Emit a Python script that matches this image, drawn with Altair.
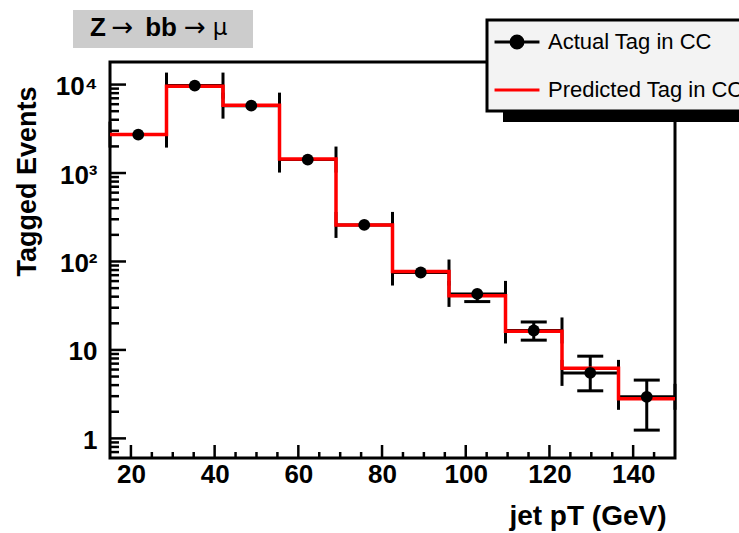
import altair as alt
import pandas as pd

# ---- data ----
bin_lo = [15, 28.5, 42, 55.5, 69, 82.5, 96, 109.5, 123, 136.5]
bin_hi = [28.5, 42, 55.5, 69, 82.5, 96, 109.5, 123, 136.5, 150]
actual = [2720, 9740, 5780, 1420, 259, 75, 43, 16.6, 5.5, 2.95]
# error bars only where they stick out of the marker
err_lo = [None, None, None, None, None, None, 35.2, 12.9, 3.45, 1.24]
err_hi = [None, None, None, None, None, None, None, 20.7, 8.5, 4.56]
predicted = [2720, 9570, 5840, 1440, 259, 77, 41, 16.3, 6.2, 2.8]
series = ["Actual Tag in CC", "Predicted Tag in CC"]
x_major = [20, 40, 60, 80, 100, 120, 140]
x_minor = [25, 30, 35, 45, 50, 55, 65, 70, 75, 85, 90, 95, 105, 110, 115, 125, 130, 135, 145]
y_major = [1, 10, 100, 1000, 10000]
y_labels = ["1", "10", "10²", "10³", "10⁴"]
y_minor = [0.7, 0.8, 0.9, 2, 3, 4, 5, 6, 7, 8, 9, 20, 30, 40, 50, 60, 70, 80, 90,
           200, 300, 400, 500, 600, 700, 800, 900, 2000, 3000, 4000, 5000, 6000, 7000, 8000, 9000]
x_domain = [15, 150]
y_domain = [0.6, 18000]
title_parts = ["Z", "→", "bb", "→", "μ"]
x_title = "jet pT (GeV)"
y_title = "Tagged Events"

FONT = "Liberation Sans"

df = pd.DataFrame({"lo": bin_lo, "hi": bin_hi, "actual": actual, "pred": predicted})
df["center"] = (df["lo"] + df["hi"]) / 2
err_df = pd.DataFrame({"center": df["center"], "actual": actual, "elo": err_lo, "ehi": err_hi})
step_df = pd.DataFrame({"x": bin_lo + [bin_hi[-1]], "y": predicted + [predicted[-1]]})
leg_df = pd.DataFrame({"s": series})
one = pd.DataFrame({"a": [0]})

xs = alt.Scale(domain=x_domain, nice=False, zero=False)
ys = alt.Scale(type="log", domain=y_domain, nice=False)

label_expr = " : ".join(
    [f"datum.value == {v} ? '{l}'" for v, l in zip(y_major, y_labels)]) + " : ''"

x_axis = alt.Axis(values=x_major, ticks=False, domain=False, grid=False,
                  labelFont=FONT, labelFontSize=26, labelFontWeight="bold",
                  labelColor="black", labelPadding=3, title=x_title,
                  titleFont=FONT, titleFontSize=28, titleFontWeight="bold",
                  titleColor="black", titleX=556, titleY=58, titleAlign="right",
                  titleBaseline="middle", format="d")
y_axis = alt.Axis(values=y_major, ticks=False, domain=False, grid=False,
                  labelExpr=label_expr, labelFont=FONT, labelFontSize=26,
                  labelFontWeight="bold", labelColor="black", labelPadding=13,
                  labelOffset=2, title=y_title, titleFont=FONT, titleFontSize=27,
                  titleFontWeight="bold", titleColor="black", titleX=-83,
                  titleY=119, titleAlign="center", titleBaseline="middle",
                  titleAngle=-90)

base = alt.Chart(df)
ebase = alt.Chart(err_df)

# horizontal error bars (bin width) with end caps
hbar = base.mark_rule(color="black", strokeWidth=3).encode(
    x=alt.X("lo:Q", scale=xs, axis=x_axis), x2="hi:Q",
    y=alt.Y("actual:Q", scale=ys, axis=y_axis))
cap_l = base.mark_tick(orient="vertical", size=26, thickness=3, color="black", opacity=1).encode(
    x=alt.X("lo:Q", scale=xs), y=alt.Y("actual:Q", scale=ys))
cap_r = base.mark_tick(orient="vertical", size=26, thickness=3, color="black", opacity=1).encode(
    x=alt.X("hi:Q", scale=xs), y=alt.Y("actual:Q", scale=ys))
# vertical error bars with caps
vbar = ebase.transform_calculate(
    top="isValid(datum.ehi) ? datum.ehi : datum.actual",
    bot="isValid(datum.elo) ? datum.elo : datum.actual",
).mark_rule(color="black", strokeWidth=3).encode(
    x=alt.X("center:Q", scale=xs), y=alt.Y("bot:Q", scale=ys), y2="top:Q")
vcap_lo = ebase.transform_filter("isValid(datum.elo)").mark_tick(
    orient="horizontal", size=26, thickness=3, color="black", opacity=1).encode(
    x=alt.X("center:Q", scale=xs), y=alt.Y("elo:Q", scale=ys))
vcap_hi = ebase.transform_filter("isValid(datum.ehi)").mark_tick(
    orient="horizontal", size=26, thickness=3, color="black", opacity=1).encode(
    x=alt.X("center:Q", scale=xs), y=alt.Y("ehi:Q", scale=ys))

# predicted histogram
step = alt.Chart(step_df).mark_line(interpolate="step-after", color="#ff0000",
                                    strokeWidth=3.5).encode(
    x=alt.X("x:Q", scale=xs), y=alt.Y("y:Q", scale=ys))

# actual points
pts = base.mark_circle(size=140, color="black", opacity=1).encode(
    x=alt.X("center:Q", scale=xs), y=alt.Y("actual:Q", scale=ys))

# inward ticks
ymaj = alt.Chart(pd.DataFrame({"v": y_major})).mark_tick(
    orient="horizontal", size=32, thickness=2.5, color="black", opacity=1, clip=True).encode(
    x=alt.X(datum=x_domain[0], scale=xs), y=alt.Y("v:Q", scale=ys))
ymin = alt.Chart(pd.DataFrame({"v": y_minor})).mark_tick(
    orient="horizontal", size=18, thickness=2.5, color="black", opacity=1, clip=True).encode(
    x=alt.X(datum=x_domain[0], scale=xs), y=alt.Y("v:Q", scale=ys))
xmaj = alt.Chart(pd.DataFrame({"v": x_major})).mark_tick(
    orient="vertical", size=26, thickness=2.5, color="black", opacity=1, clip=True).encode(
    x=alt.X("v:Q", scale=xs), y=alt.Y(datum=y_domain[0], scale=ys))
xmin = alt.Chart(pd.DataFrame({"v": x_minor})).mark_tick(
    orient="vertical", size=12, thickness=2.5, color="black", opacity=1, clip=True).encode(
    x=alt.X("v:Q", scale=xs), y=alt.Y(datum=y_domain[0], scale=ys))

# title box
title_box = alt.Chart(one).mark_rect(color="#cccccc").encode(
    x=alt.value(-37), x2=alt.value(143), y=alt.value(-52), y2=alt.value(-14))
title_x = [-12, 12.5, 51, 85, 110]
title_bold = [True, False, True, False, False]
title_size = [26, 26, 26, 26, 23]
title_marks = []
for part, tx, b, fs in zip(title_parts, title_x, title_bold, title_size):
    title_marks.append(alt.Chart(one).mark_text(
        font=FONT if b else "DejaVu Sans", fontSize=fs,
        fontWeight="bold" if b else "normal", color="black", align="center",
        baseline="middle").encode(x=alt.value(tx), y=alt.value(-34), text=alt.value(part)))

# legend shadow
shadow = alt.Chart(one).mark_rect(color="black").encode(
    x=alt.value(393), x2=alt.value(800), y=alt.value(-30), y2=alt.value(60))

# legend (real legend from a transparent layer)
path_actual = "M-2.14,0L2.14,0M-0.57,0A0.57,0.57,0,1,1,0.57,0A0.57,0.57,0,1,1,-0.57,0Z"
path_pred = "M-2.14,0L2.14,0"
leg = alt.Legend(orient="none", legendX=377, legendY=-42, title=None,
                 fillColor="#f3f3f3", strokeColor="black", padding=10,
                 symbolSize=441, symbolStrokeWidth=3, symbolOffset=8,
                 symbolOpacity=1, labelFont=FONT, labelFontSize=22,
                 labelColor="black", labelOffset=19, labelLimit=0,
                 rowPadding=24)
leg_layer = alt.Chart(leg_df).mark_point(filled=True, fillOpacity=0,
                                         strokeOpacity=0).encode(
    x=alt.X(datum=50, scale=xs), y=alt.Y(datum=100, scale=ys),
    shape=alt.Shape("s:N", scale=alt.Scale(domain=series, range=[path_actual, path_pred]), legend=leg),
    fill=alt.Fill("s:N", scale=alt.Scale(domain=series, range=["black", "#ff0000"]), legend=leg),
    stroke=alt.Stroke("s:N", scale=alt.Scale(domain=series, range=["black", "#ff0000"]), legend=leg))

chart = alt.layer(
    hbar, cap_l, cap_r, vbar, vcap_lo, vcap_hi, step, pts,
    ymaj, ymin, xmaj, xmin, title_box, *title_marks, shadow, leg_layer
).properties(
    width=565, height=396,
    autosize=alt.AutoSizeParams(type="none"),
    padding={"left": 110, "top": 62, "right": 64, "bottom": 75},
    background="white",
).configure_view(
    stroke="black", strokeWidth=3, fill="white"
).configure_legend(
    strokeWidth=3
)

chart.save("out.html", embed_options={"renderer": "svg", "actions": False})
